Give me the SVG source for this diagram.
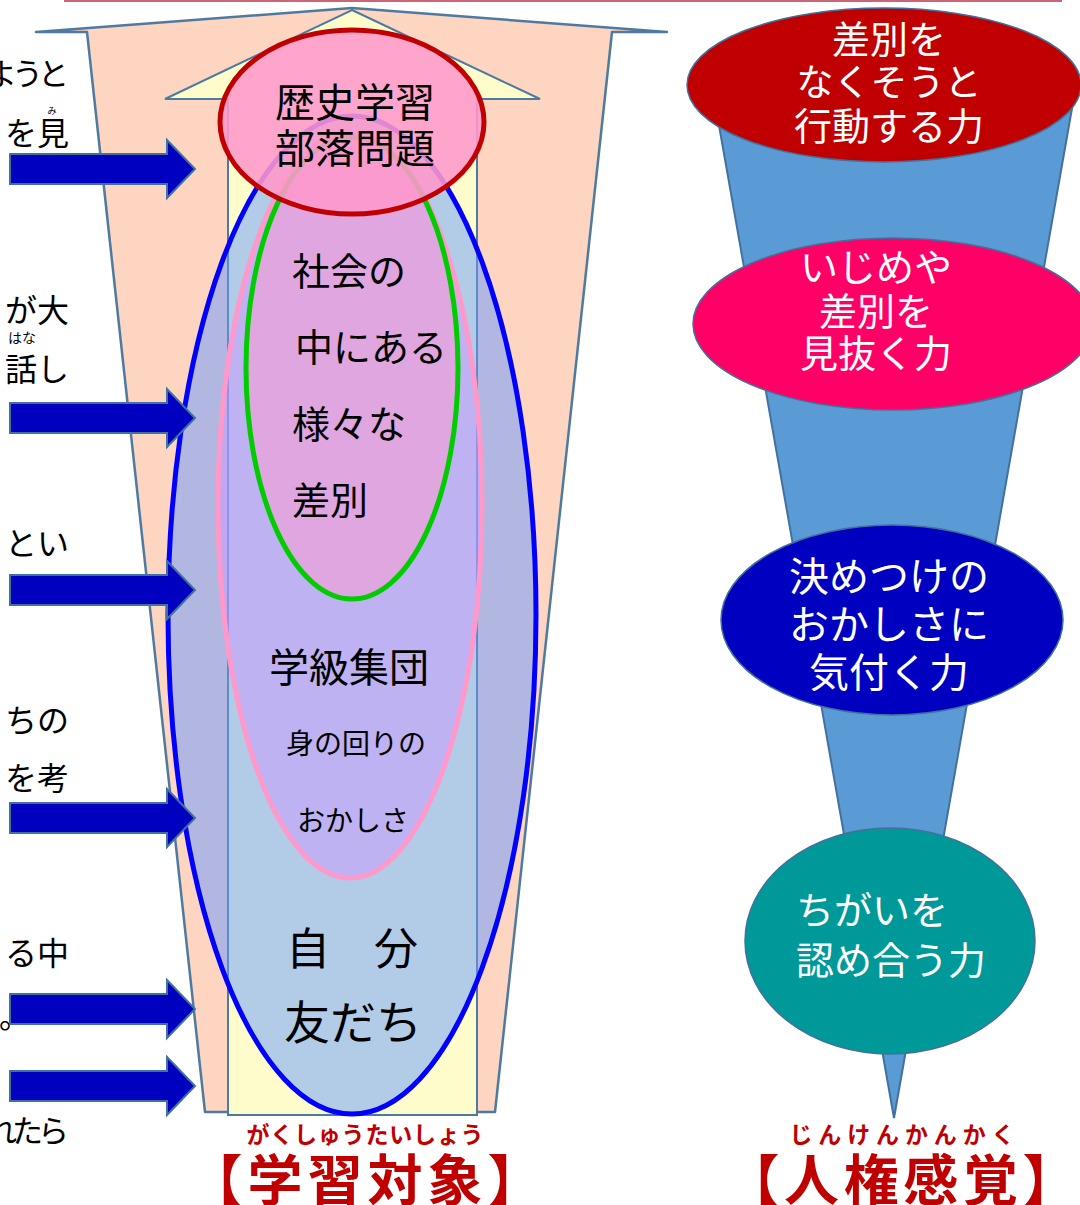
<svg xmlns="http://www.w3.org/2000/svg" width="1080" height="1205" viewBox="0 0 1080 1205">
<style>
text{font-family:"Noto Sans CJK JP","Noto Sans",sans-serif}
.blk{fill:#000}
.wht{fill:#fff}
.lbl{fill:#C00000;font-weight:bold}
.rarr{fill:#0000C0;stroke:#41719C;stroke-width:2}
.rel{stroke:#41719C;stroke-width:1.5}
.side{font-size:32px;fill:#000;text-anchor:end}
.mid{text-anchor:middle}
</style>
<rect width="1080" height="1205" fill="#fff"/>
<line x1="64" y1="1" x2="1062" y2="1" stroke="#CC6677" stroke-width="2"/>

<g id="left-texts">
<text x="-14" y="85" font-size="31" letter-spacing="-5">ようと</text>
<text x="52" y="114" font-size="9" text-anchor="middle">み</text>
<text class="side" x="69" y="145">を見</text>
<text class="side" x="69" y="322">が大</text>
<text x="22" y="343" font-size="14" text-anchor="middle">はな</text>
<text class="side" x="69" y="381">話し</text>
<text class="side" x="69" y="555">とい</text>
<text class="side" x="69" y="732">ちの</text>
<text class="side" x="69" y="790">を考</text>
<text class="side" x="69" y="965">る中</text>
<text x="-1" y="1028" font-size="31">。</text>
<text x="-14" y="1142" font-size="31" letter-spacing="-5">れたら</text>
</g>

<g id="big-arrow">
<polygon points="352,8 667,32 612,32 495,1112 205,1112 87,32 36,32" fill="#FDD5C0" stroke="#4F7AA0" stroke-width="2.5" stroke-linejoin="round"/>
</g>
<g id="inner-arrow">
<polygon points="352,10 540,99 477,99 477,1115 228,1115 228,99 165,99" fill="#FFFCCC" stroke="#4F7AA0" stroke-width="2"/>
</g>

<g id="self-friends">
<ellipse cx="352" cy="615" rx="184" ry="499" fill="#6699FF" fill-opacity="0.5" stroke="#0000FF" stroke-width="5"/>
</g>
<g id="class-group">
<ellipse cx="350" cy="505" rx="132" ry="373" fill="#CC99FF" fill-opacity="0.5" stroke="#FF99CC" stroke-width="5"/>
</g>
<g id="society">
<ellipse cx="352" cy="368" rx="106" ry="231" fill="#FF99CC" fill-opacity="0.5" stroke="#00CC00" stroke-width="5"/>
</g>
<g id="history">
<ellipse cx="352" cy="122" rx="132" ry="92" fill="#FF99CC" fill-opacity="0.88" stroke="#C00000" stroke-width="5"/>
<text class="blk mid" x="355" y="117" font-size="40">歴史学習</text>
<text class="blk mid" x="355" y="163" font-size="40">部落問題</text>
</g>

<g id="inner-texts">
<text class="blk" x="292" y="285" font-size="38">社会の</text>
<text class="blk" x="295" y="361" font-size="38">中にある</text>
<text class="blk" x="292" y="438" font-size="38">様々な</text>
<text class="blk" x="292" y="514" font-size="38">差別</text>
<text class="blk mid" x="349" y="682" font-size="40">学級集団</text>
<text class="blk mid" x="356" y="754" font-size="28">身の回りの</text>
<text class="blk mid" x="353" y="831" font-size="28">おかしさ</text>
<text class="blk mid" x="352" y="965" font-size="44">自　分</text>
<text class="blk mid" x="353" y="1039" font-size="46">友だち</text>
</g>

<g id="connectors">
<path class="rarr" d="M10,154 H167 V140 L195,169 L167,198 V184 H10 Z"/>
<path class="rarr" d="M10,403 H167 V389 L195,418 L167,447 V433 H10 Z"/>
<path class="rarr" d="M10,575 H167 V561 L195,590 L167,619 V605 H10 Z"/>
<path class="rarr" d="M10,803 H167 V789 L195,818 L167,847 V833 H10 Z"/>
<path class="rarr" d="M10,994 H167 V980 L195,1009 L167,1038 V1024 H10 Z"/>
<path class="rarr" d="M10,1071 H167 V1057 L195,1086 L167,1115 V1101 H10 Z"/>
</g>

<g id="cone">
<polygon points="711,80 1077,80 894,1118" fill="#5B9BD5" stroke="#41719C" stroke-width="2"/>
</g>
<g id="act">
<ellipse class="rel" cx="884" cy="85" rx="197" ry="77" fill="#C00000"/>
<text class="wht mid" x="889" y="53" font-size="38">差別を</text>
<text class="wht mid" x="889" y="96" font-size="37">なくそうと</text>
<text class="wht mid" x="889" y="140" font-size="38">行動する力</text>
</g>
<g id="see-through">
<ellipse class="rel" cx="893" cy="324" rx="200" ry="86" fill="#FF0066"/>
<text class="wht mid" x="876" y="281" font-size="38">いじめや</text>
<text class="wht mid" x="876" y="325" font-size="38">差別を</text>
<text class="wht mid" x="876" y="367" font-size="38">見抜く力</text>
</g>
<g id="notice">
<ellipse class="rel" cx="892" cy="620" rx="171" ry="95" fill="#0000C0"/>
<text class="wht mid" x="889" y="591" font-size="40">決めつけの</text>
<text class="wht mid" x="889" y="639" font-size="40">おかしさに</text>
<text class="wht mid" x="889" y="687" font-size="40">気付く力</text>
</g>
<g id="accept">
<ellipse class="rel" cx="890" cy="941" rx="145" ry="113" fill="#009999"/>
<text class="wht" x="796" y="924" font-size="38">ちがいを</text>
<text class="wht" x="796" y="974" font-size="38">認め合う力</text>
</g>

<g id="labels">
<text class="lbl mid" x="365" y="1143" font-size="23" textLength="237" lengthAdjust="spacing">がくしゅうたいしょう</text>
<text class="lbl mid" x="365" y="1200" font-size="55" textLength="355" lengthAdjust="spacing">【学習対象】</text>
<text class="lbl mid" x="902" y="1143" font-size="23" textLength="225" lengthAdjust="spacing">じんけんかんかく</text>
<text class="lbl mid" x="901" y="1200" font-size="55" textLength="353" lengthAdjust="spacing">【人権感覚】</text>
</g>
</svg>
